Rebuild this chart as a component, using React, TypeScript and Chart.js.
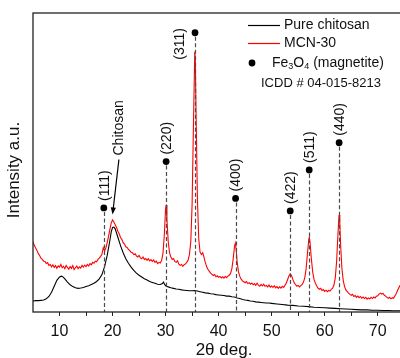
import React, { useEffect, useRef } from 'react';
import { Chart, registerables } from 'chart.js';

Chart.register(...registerables);

// 2θ (deg) and intensity (a.u.)
const chitosanAngles = [5.0,5.5,6.0,6.5,7.0,7.5,8.0,8.5,9.0,9.5,10.0,10.4,10.75,11.0,11.5,12.0,12.5,13.0,13.5,14.0,14.5,15.0,15.5,16.0,16.5,17.0,17.5,18.0,18.5,19.0,19.5,19.75,20.0,20.25,20.5,21.0,21.5,22.0,22.5,23.0,23.5,24.0,24.5,25.0,25.5,26.0,26.5,27.0,27.5,28.0,28.5,29.0,29.4,29.6,29.8,30.0,30.5,31.0,31.5,32.0,32.5,33.0,33.5,34.0,34.5,35.0,35.5,36.0,36.5,37.0,37.5,38.0,38.5,39.0,39.5,40.0,40.5,41.0,41.5,42.0,42.5,43.0,43.5,44.0,44.5,45.0,45.5,46.0,46.5,47.0,47.5,48.0,48.5,49.0,49.5,50.0,51,52,53,54,55,56,57,58,59,60,61,62,63,64,65,66,67,68,69,70,71,72,73,74.2];
const chitosanIntensity = [3.7,3.8,3.8,3.9,4.0,4.4,5.2,6.6,8.6,10.6,11.7,12.0,11.6,11.1,10.0,9.1,8.5,8.1,7.9,8.0,8.2,8.5,8.8,9.2,9.6,10.2,11.1,12.5,15.2,19.0,24.0,26.8,28.3,28.4,27.8,25.0,22.2,19.8,17.8,16.3,15.0,13.9,13.0,12.3,11.7,11.1,10.7,10.2,9.9,9.6,9.3,9.2,9.5,10.0,9.3,8.8,8.4,8.1,7.9,7.7,7.6,7.4,7.3,7.2,7.1,7.1,7.2,7.0,6.8,6.6,6.4,6.3,6.1,6.0,5.8,5.7,5.6,5.5,5.3,5.3,5.1,5.0,4.7,4.5,4.2,4.0,3.9,3.7,3.6,3.4,3.3,3.2,3.1,3.0,3.0,2.9,2.7,2.5,2.3,2.2,2.0,1.9,1.8,1.6,1.5,1.4,1.3,1.2,1.1,1.0,0.9,0.8,0.7,0.7,0.6,0.6,0.5,0.5,0.4,0.4];

const mcnAngles = [5.0,5.25,5.5,5.75,6.0,6.25,6.5,6.75,7.0,7.25,7.5,7.75,8.0,8.25,8.5,8.75,9.0,9.25,9.5,9.75,10.0,10.25,10.5,10.75,11.0,11.25,11.5,11.75,12.0,12.25,12.5,12.75,13.0,13.25,13.5,13.75,14.0,14.25,14.5,14.75,15.0,15.25,15.5,15.75,16.0,16.25,16.5,16.75,17.0,17.25,17.5,17.75,18.0,18.25,18.5,18.75,19.0,19.25,19.5,19.75,20.0,20.25,20.5,20.75,21.0,21.25,21.5,21.75,22.0,22.25,22.5,22.75,23.0,23.25,23.5,23.75,24.0,24.25,24.5,24.75,25.0,25.25,25.5,25.75,26.0,26.25,26.5,26.75,27.0,27.25,27.5,27.75,28.0,28.25,28.5,28.75,29.0,29.25,29.5,29.75,30.0,30.1,30.25,30.5,30.75,31.0,31.25,31.5,31.75,32.0,32.25,32.5,32.75,33.0,33.25,33.5,33.75,34.0,34.25,34.5,34.75,35.0,35.25,35.5,35.6,35.75,36.0,36.25,36.5,36.75,37.0,37.25,37.5,37.75,38.0,38.25,38.5,38.75,39.0,39.25,39.5,39.75,40.0,40.25,40.5,40.75,41.0,41.25,41.5,41.75,42.0,42.25,42.5,42.75,43.0,43.15,43.3,43.5,43.75,44.0,44.25,44.5,44.75,45.0,45.25,45.5,45.75,46.0,46.25,46.5,46.75,47.0,47.25,47.5,47.75,48.0,48.25,48.5,48.75,49.0,49.25,49.5,49.75,50.0,50.25,50.5,50.75,51.0,51.25,51.5,51.75,52.0,52.25,52.5,52.75,53.0,53.25,53.5,53.75,54.0,54.25,54.5,54.75,55.0,55.25,55.5,55.75,56.0,56.25,56.5,56.75,57.0,57.1,57.25,57.5,57.75,58.0,58.25,58.5,58.75,59.0,59.25,59.5,59.75,60.0,60.25,60.5,60.75,61.0,61.25,61.5,61.75,62.0,62.25,62.5,62.7,62.85,63.0,63.25,63.5,63.75,64.0,64.25,64.5,64.75,65.0,65.25,65.5,65.75,66.0,66.25,66.5,66.75,67.0,67.25,67.5,67.75,68.0,68.25,68.5,68.75,69.0,69.25,69.5,69.75,70.0,70.25,70.5,70.75,71.0,71.25,71.5,71.75,72.0,72.25,72.5,72.75,73.0,73.25,73.5,73.75,74.0,74.25];
const mcnIntensity = [23.5,22.3,21.4,20.6,19.5,18.9,18.0,17.6,17.0,16.9,16.2,16.5,15.6,15.9,15.1,15.8,14.9,15.5,14.6,15.4,15.0,15.9,14.8,15.3,14.5,15.6,14.9,14.3,15.2,14.6,15.5,14.2,14.8,15.4,14.5,15.1,14.7,15.6,15.0,15.7,15.2,15.9,15.4,16.2,15.8,16.6,16.3,17.0,16.8,17.6,18.0,18.6,19.3,21.5,20.4,21.5,23.3,25.4,27.6,29.8,30.8,30.1,29.2,28.3,27.0,26.2,24.9,24.3,23.2,22.7,21.8,21.6,20.9,20.5,20.0,19.8,19.2,19.5,18.8,18.4,18.9,18.1,17.8,18.4,17.6,17.9,17.3,17.8,17.1,17.5,16.9,17.4,16.6,17.0,16.2,16.6,16.4,17.2,19.5,25.5,34.5,35.8,31.0,23.5,19.8,18.4,17.6,17.9,16.9,16.6,17.1,16.0,15.6,15.9,15.3,15.8,16.1,16.6,17.4,19.3,23.5,36,62,87,85,66,38,24.5,20.0,19.2,19.8,18.3,16.5,15.1,14.2,13.6,13.0,12.6,12.2,12.5,11.8,12.1,11.6,11.9,11.4,11.8,11.3,11.9,11.5,12.0,12.3,12.9,14.5,17.8,22.0,23.0,21.0,16.6,13.4,11.9,11.0,10.4,10.1,9.8,10.2,9.5,9.8,9.3,9.7,9.1,9.5,8.9,9.6,9.0,8.6,9.2,8.7,9.3,8.6,8.9,8.4,9.0,8.3,8.7,8.2,8.8,8.1,8.5,7.9,8.4,8.0,8.6,8.2,8.9,9.6,10.8,12.0,12.7,12.2,10.9,9.8,9.2,8.6,8.9,8.4,8.8,9.2,10.0,11.5,14.5,19.5,24.3,25.0,23.0,17.5,13.2,10.8,9.6,8.7,8.0,7.6,7.9,7.2,7.5,6.9,7.3,6.8,7.2,7.0,7.6,8.0,9.0,11.5,17.0,26.0,32.4,30.0,22.5,14.5,10.5,8.5,7.4,6.8,6.3,5.9,5.6,5.9,5.2,5.5,4.9,5.3,4.8,5.2,4.6,5.0,4.5,4.9,4.3,4.7,4.4,4.9,4.5,5.0,4.7,5.3,5.4,6.0,6.3,6.0,6.2,5.6,5.3,4.9,4.6,4.9,4.4,4.8,4.6,5.4,6.2,7.3,8.2,9.0];

// Fe3O4 reflections
const peakAngles = [18.35, 30.1, 35.55, 43.2, 53.5, 57.08, 62.72];
const peakLabels = ['(111)', '(220)', '(311)', '(400)', '(422)', '(511)', '(440)'];
const markerHeights = [34.8, 50.3, 93.4, 38.0, 33.8, 47.5, 56.6];

const xTickValues = [10, 15, 20, 25, 30, 35, 40, 45, 50, 55, 60, 65, 70];
const seriesNames = ['Pure chitosan', 'MCN-30'];
const chitosanNote = { text: 'Chitosan', fromAngle: 21.2, fromHeight: 51.0, toAngle: 20.0, toHeight: 32.6 };

const FONT = "'Liberation Sans', Arial, sans-serif";

const annotate = {
  id: 'annotate',
  afterDatasetsDraw(chart: any) {
    const { ctx, chartArea, scales } = chart;
    const x = scales.x;
    const y = scales.y;
    ctx.save();
    // dashed reference lines
    ctx.setLineDash([4, 2.5]);
    ctx.strokeStyle = '#4a4a4a';
    ctx.lineWidth = 1.2;
    peakAngles.forEach((a, i) => {
      const px = Math.round(x.getPixelForValue(a)) + 0.5;
      const py = y.getPixelForValue(markerHeights[i]);
      ctx.beginPath();
      ctx.moveTo(px, py + 4);
      ctx.lineTo(px, chartArea.bottom);
      ctx.stroke();
    });
    ctx.setLineDash([]);
    // markers
    ctx.fillStyle = '#000';
    peakAngles.forEach((a, i) => {
      ctx.beginPath();
      ctx.arc(x.getPixelForValue(a), y.getPixelForValue(markerHeights[i]), 3.4, 0, Math.PI * 2);
      ctx.fill();
    });
    // rotated hkl labels
    ctx.font = `14px ${FONT}`;
    ctx.fillStyle = '#111';
    peakAngles.forEach((a, i) => {
      const px = x.getPixelForValue(a);
      const py = y.getPixelForValue(markerHeights[i]);
      let cx = px + 1;
      let bottom = py - 7;
      if (peakLabels[i] === '(311)') {
        cx = px - 15;
        bottom = py + 27;
      }
      ctx.save();
      ctx.translate(cx, bottom);
      ctx.rotate(-Math.PI / 2);
      ctx.textAlign = 'left';
      ctx.textBaseline = 'middle';
      ctx.fillText(peakLabels[i], 0, 0);
      ctx.restore();
    });
    // Chitosan note with arrow
    const fx = x.getPixelForValue(chitosanNote.fromAngle);
    const fy = y.getPixelForValue(chitosanNote.fromHeight);
    const tx = x.getPixelForValue(chitosanNote.toAngle);
    const ty = y.getPixelForValue(chitosanNote.toHeight);
    ctx.save();
    ctx.translate(fx, fy - 4);
    ctx.rotate(-Math.PI / 2);
    ctx.textAlign = 'left';
    ctx.textBaseline = 'middle';
    ctx.fillText(chitosanNote.text, 0, 0);
    ctx.restore();
    const ang = Math.atan2(ty - fy, tx - fx);
    const headLen = 7;
    ctx.strokeStyle = '#000';
    ctx.lineWidth = 1.2;
    ctx.beginPath();
    ctx.moveTo(fx, fy);
    ctx.lineTo(tx - Math.cos(ang) * headLen * 0.8, ty - Math.sin(ang) * headLen * 0.8);
    ctx.stroke();
    ctx.fillStyle = '#000';
    ctx.beginPath();
    ctx.moveTo(tx, ty);
    ctx.lineTo(tx - headLen * Math.cos(ang) + 2.6 * Math.sin(ang), ty - headLen * Math.sin(ang) - 2.6 * Math.cos(ang));
    ctx.lineTo(tx - headLen * Math.cos(ang) - 2.6 * Math.sin(ang), ty - headLen * Math.sin(ang) + 2.6 * Math.cos(ang));
    ctx.closePath();
    ctx.fill();
    ctx.restore();
  },
  afterDraw(chart: any) {
    const { ctx, chartArea } = chart;
    ctx.save();
    // frame
    ctx.strokeStyle = '#222';
    ctx.lineWidth = 1.3;
    ctx.strokeRect(chartArea.left, chartArea.top, chartArea.right - chartArea.left + 3, chartArea.bottom - chartArea.top);
    // axis titles
    ctx.fillStyle = '#111';
    ctx.font = `17px ${FONT}`;
    ctx.save();
    ctx.translate(14, 170);
    ctx.rotate(-Math.PI / 2);
    ctx.textAlign = 'center';
    ctx.textBaseline = 'middle';
    ctx.fillText('Intensity a.u.', 0, 0);
    ctx.restore();
    ctx.textAlign = 'center';
    ctx.textBaseline = 'middle';
    ctx.fillText('2θ deg.', 224, 350);
    // legend
    ctx.lineWidth = 1.2;
    ctx.strokeStyle = '#000';
    ctx.beginPath(); ctx.moveTo(248, 25.5); ctx.lineTo(280, 25.5); ctx.stroke();
    ctx.strokeStyle = '#ff0000';
    ctx.beginPath(); ctx.moveTo(248, 43.5); ctx.lineTo(280, 43.5); ctx.stroke();
    ctx.fillStyle = '#000';
    ctx.beginPath(); ctx.arc(252, 63, 3.4, 0, Math.PI * 2); ctx.fill();
    ctx.fillStyle = '#111';
    ctx.font = `14px ${FONT}`;
    ctx.textAlign = 'left';
    ctx.textBaseline = 'middle';
    ctx.fillText(seriesNames[0], 284, 25);
    ctx.fillText(seriesNames[1], 284, 43);
    let cx = 272;
    const parts: [string, boolean][] = [['Fe', false], ['3', true], ['O', false], ['4', true], [' (magnetite)', false]];
    parts.forEach(([t, sub]) => {
      ctx.font = sub ? `9px ${FONT}` : `14px ${FONT}`;
      ctx.fillText(t, cx, sub ? 67 : 63);
      cx += ctx.measureText(t).width;
    });
    ctx.font = `13px ${FONT}`;
    ctx.fillText('ICDD # 04-015-8213', 261, 83);
    ctx.restore();
  },
};

export default function App() {
  const ref = useRef<HTMLCanvasElement>(null);
  useEffect(() => {
    if (!ref.current) return;
    const chart = new Chart(ref.current, {
      type: 'line',
      data: {
        datasets: [
          {
            label: seriesNames[0],
            data: chitosanAngles.map((a, i) => ({ x: a, y: chitosanIntensity[i] })),
            borderColor: '#000',
            borderWidth: 1.1,
            pointRadius: 0,
            tension: 0,
          },
          {
            label: seriesNames[1],
            data: mcnAngles.map((a, i) => ({ x: a, y: mcnIntensity[i] })),
            borderColor: '#ff0000',
            borderWidth: 1.1,
            pointRadius: 0,
            tension: 0,
          },
        ],
      },
      options: {
        animation: false,
        responsive: false,
        devicePixelRatio: 1,
        layout: { padding: { top: 13, right: 0, left: 0, bottom: 0 } },
        plugins: { legend: { display: false }, tooltip: { enabled: false }, title: { display: false } },
        scales: {
          x: {
            type: 'linear',
            min: 5,
            max: 74.2,
            afterBuildTicks: (scale: any) => {
              scale.ticks = xTickValues.map((v) => ({ value: v }));
            },
            afterFit: (scale: any) => {
              scale.height = 46;
            },
            grid: { display: true, drawOnChartArea: false, drawTicks: true, tickLength: 4, color: '#222', lineWidth: 1 },
            border: { display: false },
            ticks: {
              autoSkip: false,
              maxRotation: 0,
              padding: 6,
              color: '#111',
              font: { family: FONT, size: 16 },
              callback: (v: any) => (Number(v) % 10 === 0 ? String(v) : ''),
            },
          },
          y: {
            type: 'linear',
            min: 0,
            max: 100,
            afterFit: (scale: any) => {
              scale.width = 33;
            },
            grid: { display: false },
            border: { display: false },
            ticks: { display: false },
          },
        },
      },
      plugins: [annotate],
    });
    return () => chart.destroy();
  }, []);
  return (
    <div style={{ position: 'absolute', left: 0, top: 0, width: 400, height: 358, background: '#fff' }}>
      <canvas ref={ref} width={400} height={358} style={{ display: 'block' }} />
    </div>
  );
}
